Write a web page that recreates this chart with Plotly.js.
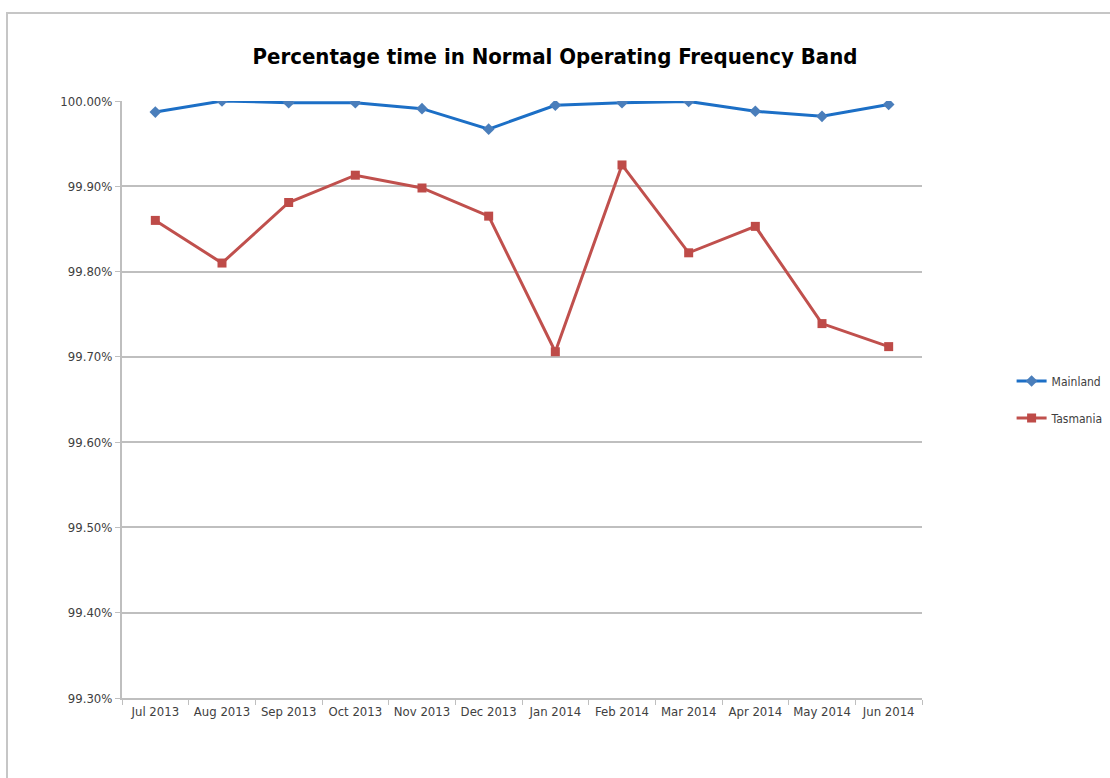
<!DOCTYPE html>
<html>
<head>
<meta charset="utf-8">
<script src="https://cdn.plot.ly/plotly-3.0.1.min.js"></script>
<style>
  html, body { margin: 0; padding: 0; background: #ffffff; overflow: hidden; }
  #wrap { position: relative; width: 1110px; height: 778px; overflow: hidden; }
  #chart { position: absolute; left: 0; top: 0; width: 1110px; height: 778px; }
  #frame {
    position: absolute; left: 6px; top: 12px; width: 1200px; height: 900px;
    border-top: 2px solid #c6c6c6; border-left: 2px solid #c6c6c6;
    pointer-events: none;
  }
</style>
</head>
<body>
<div id="wrap">
  <div id="chart"></div>
  <div id="frame"></div>
</div>
<script>
// Monthly share of time within the normal operating frequency band (%)
const months = ['Jul 2013', 'Aug 2013', 'Sep 2013', 'Oct 2013', 'Nov 2013', 'Dec 2013',
                'Jan 2014', 'Feb 2014', 'Mar 2014', 'Apr 2014', 'May 2014', 'Jun 2014'];
const mainland = [99.987, 100.000, 99.998, 99.998, 99.991, 99.967,
                  99.995, 99.998, 99.9995, 99.988, 99.982, 99.996];
const tasmania = [99.860, 99.810, 99.881, 99.913, 99.898, 99.865,
                  99.706, 99.925, 99.822, 99.853, 99.739, 99.712];
const yTicks = [99.3, 99.4, 99.5, 99.6, 99.7, 99.8, 99.9, 100.0];
const yTickText = yTicks.map(v => v.toFixed(2) + '%');

const fontStack = '"DejaVu Sans Condensed", "Liberation Sans Narrow", Arial, sans-serif';
const labelFont = { family: fontStack, size: 13, color: '#404040' };

const traces = [
  {
    x: months, y: mainland, name: 'Mainland', type: 'scatter', mode: 'lines+markers',
    legendgroup: 'm',
    line: { color: '#1c6fc6', width: 3 },
    marker: { symbol: 'diamond', size: 9, color: '#4a7ebb' }
  },
  {
    x: months, y: tasmania, name: 'Tasmania', type: 'scatter', mode: 'lines+markers',
    legendgroup: 't',
    line: { color: '#c0504d', width: 3 },
    marker: { symbol: 'square', size: 9, color: '#be4b48' }
  }
];

const layout = {
  width: 1110, height: 778,
  margin: { l: 122, r: 188, t: 101, b: 80, autoexpand: false },
  paper_bgcolor: '#ffffff', plot_bgcolor: '#ffffff',
  title: {
    text: '<b>Percentage time in Normal Operating Frequency Band</b>',
    font: { family: fontStack, size: 22, color: '#000000' },
    x: 0.5, xref: 'container', xanchor: 'center',
    y: 0.928, yref: 'container', yanchor: 'middle'
  },
  xaxis: {
    type: 'category', range: [-0.5, 11.5], autorange: false,
    tickson: 'boundaries', ticks: 'outside', ticklen: 5, tickcolor: '#bfbfbf',
    showline: true, linecolor: '#bfbfbf', linewidth: 2,
    showgrid: false, zeroline: false,
    tickfont: labelFont, fixedrange: true
  },
  yaxis: {
    range: [99.3, 100.0], autorange: false,
    tickmode: 'array', tickvals: yTicks, ticktext: yTickText,
    ticks: 'outside', ticklen: 5, tickcolor: '#bfbfbf',
    showline: true, linecolor: '#bfbfbf', linewidth: 2,
    showgrid: true, gridcolor: '#bfbfbf', gridwidth: 2,
    zeroline: false, tickfont: labelFont, fixedrange: true
  },
  showlegend: true,
  legend: {
    x: 1.112, xanchor: 'left', y: 0.5, yanchor: 'middle',
    traceorder: 'grouped', tracegroupgap: 18,
    font: { family: fontStack, size: 12, color: '#404040' },
    itemwidth: 30, bgcolor: 'rgba(0,0,0,0)'
  }
};

Plotly.newPlot('chart', traces, layout, { displayModeBar: false, staticPlot: true });
</script>
</body>
</html>
